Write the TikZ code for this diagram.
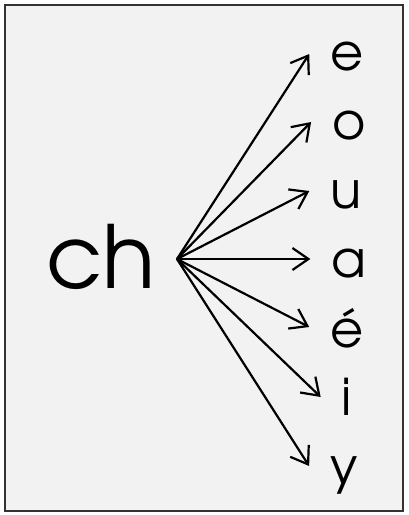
\documentclass[tikz,border=0pt]{standalone}
\usepackage{fontspec}
\setmainfont{TeX Gyre Adventor}
\usetikzlibrary{arrows.meta,calc}
\definecolor{bgfill}{HTML}{F2F2F2}
\definecolor{frame}{HTML}{333333}
\tikzset{
  src/.style={inner sep=0pt,anchor=base,font=\fontsize{87}{87}\selectfont},
  vowel/.style={inner sep=0pt,anchor=base,font=\fontsize{51}{51}\selectfont},
  arr/.style={line width=2.2pt,-{Straight Barb[length=16pt,width=22pt,line width=2.2pt]}}
}
\begin{document}
\begin{tikzpicture}[x=1pt,y=-1pt]
\useasboundingbox (0,0) rectangle (408,515);
\draw[fill=bgfill,draw=frame,line width=2pt] (5,5) rectangle (403,511);
\node[src] (ch) at (101,288) {ch};
\coordinate (o0) at (177,259);
\node[vowel] (e) at (347,70) {e};
\node[vowel] (o) at (349,139) {o};
\node[vowel] (u) at (346,208) {u};
\node[vowel] (a) at (349,277) {a};
\node[vowel] (ea) at (347,347) {é};
\node[vowel] (i) at (347,415) {i};
\node[vowel] (y) at (344,484) {y};
\draw[arr] (o0) -- ([xshift=-21pt,yshift=16pt]e.base west);
\draw[arr] (o0) -- ([xshift=-21pt,yshift=17pt]o.base west);
\draw[arr] (o0) -- ([xshift=-21pt,yshift=17pt]u.base west);
\draw[arr] (o0) -- ([xshift=-21pt,yshift=18pt]a.base west);
\draw[arr] (o0) -- ([xshift=-21pt,yshift=20pt]ea.base west);
\draw[arr] (o0) -- ([xshift=-21pt,yshift=18pt]i.base west);
\draw[arr] (o0) -- ([xshift=-21pt,yshift=18pt]y.base west);
\end{tikzpicture}
\end{document}
